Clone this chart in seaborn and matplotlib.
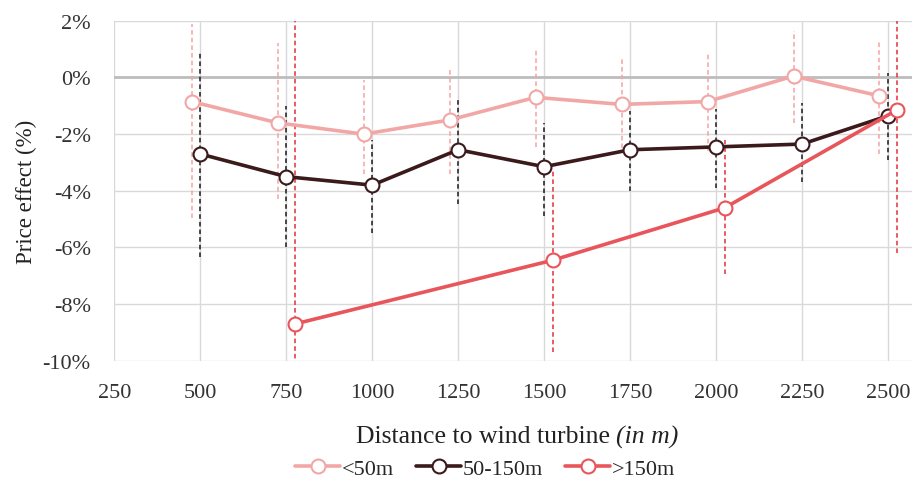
import pandas as pd
import matplotlib.pyplot as plt
import seaborn as sns
from matplotlib.offsetbox import TextArea, HPacker, AnchoredOffsetbox

# -----------------------------
# Data
# -----------------------------
distance = [500, 750, 1000, 1250, 1500, 1750, 2000, 2250, 2500]

small_effect = [-0.85, -1.6, -2.0, -1.5, -0.7, -0.95, -0.85, 0.05, -0.65]
small_low = [-4.95, -4.3, -3.4, -3.4, -2.45, -2.5, -2.6, -1.6, -2.7]
small_high = [1.9, 1.2, -0.1, 0.35, 1.0, 0.65, 0.9, 1.65, 1.3]

mid_effect = [-2.7, -3.5, -3.8, -2.55, -3.15, -2.55, -2.45, -2.35, -1.35]
mid_low = [-6.35, -6.0, -5.5, -4.45, -4.9, -4.0, -3.9, -3.7, -2.9]
mid_high = [0.95, -1.0, -2.2, -0.7, -1.6, -1.2, -1.1, -0.9, 0.15]

large_distance = [750, 1500, 2000, 2500]
large_effect = [-8.7, -6.45, -4.6, -1.15]
large_low = [-11.0, -9.7, -6.95, -6.2]
large_high = [2.5, -3.3, -2.2, 2.5]

groups = ['<50m', '50-150m', '>150m']
colors = {'<50m': '#F2A7A7', '50-150m': '#3B1A1C', '>150m': '#E8555A'}
bar_colors = {'<50m': '#F4A3A3', '50-150m': '#1A1A1A', '>150m': '#E0303A'}
offsets = {'<50m': -25, '50-150m': 0, '>150m': 25}

frames = [
    pd.DataFrame({'distance': distance, 'effect': small_effect,
                  'low': small_low, 'high': small_high, 'group': '<50m'}),
    pd.DataFrame({'distance': distance, 'effect': mid_effect,
                  'low': mid_low, 'high': mid_high, 'group': '50-150m'}),
    pd.DataFrame({'distance': large_distance, 'effect': large_effect,
                  'low': large_low, 'high': large_high, 'group': '>150m'}),
]
df = pd.concat(frames, ignore_index=True)
df['x'] = df['distance'] + df['group'].map(offsets)

# -----------------------------
# Plot
# -----------------------------
sns.set_style('white')
plt.rcParams['font.family'] = ['Liberation Serif', 'DejaVu Serif']

fig = plt.figure(figsize=(9.14, 4.85), dpi=100)
ax = fig.add_axes([0.125, 0.254, 0.873, 0.701])

# dashed confidence bars
for g in groups:
    sub = df[df['group'] == g]
    ax.vlines(sub['x'], sub['low'], sub['high'], colors=bar_colors[g],
              linestyles=(0, (3, 2)), linewidth=1.1, zorder=2)

sns.lineplot(
    data=df, x='x', y='effect', hue='group', hue_order=groups,
    palette=colors, marker='o', markersize=10, markerfacecolor='white',
    markeredgewidth=1.5, linewidth=2.6, sort=True, ax=ax, zorder=3
)
for line, g in zip(ax.get_lines(), groups):
    line.set_markeredgecolor(colors[g])

ax.axhline(0, color='#BDBDBD', linewidth=2, zorder=1)

ax.set_xlim(250, 2570)
ax.set_ylim(-10, 2)
ax.set_xticks(range(250, 2501, 250))
ax.set_yticks(range(-10, 3, 2))
ax.set_yticklabels([f'{v}%' for v in range(-10, 3, 2)])
ax.grid(True, color='#D9D9D9', linewidth=1)
for s in ax.spines.values():
    s.set_visible(False)
ax.tick_params(axis='both', labelsize=16, colors='#333333', length=0)
ax.tick_params(axis='x', pad=16)
ax.tick_params(axis='y', pad=17)

ax.set_xlabel('')
ax.set_ylabel('Price effect (%)', fontsize=16.5, color='#222222', labelpad=4)

# x label with italic unit part
label_parts = HPacker(children=[
    TextArea('Distance to wind turbine ',
             textprops=dict(fontsize=18.5, color='#222222')),
    TextArea('(in m)',
             textprops=dict(fontsize=18.5, color='#222222', style='italic')),
], align='baseline', pad=0, sep=0)
fig.add_artist(AnchoredOffsetbox(loc='center', child=label_parts, frameon=False,
                                 bbox_to_anchor=(0.566, 0.099),
                                 bbox_transform=fig.transFigure, pad=0,
                                 borderpad=0))

ax.get_legend().remove()
handles, labels = ax.get_legend_handles_labels()
for h, g in zip(handles, labels):
    h.set_markeredgecolor(colors[g])
    h.set_markerfacecolor('white')
fig.legend(handles, labels, loc='center', bbox_to_anchor=(0.531, 0.031),
           ncol=3, frameon=False, fontsize=16, handlelength=2.0,
           columnspacing=1.0, handletextpad=0.1, borderpad=0)

plt.savefig('out.png', dpi=100)
plt.close()
